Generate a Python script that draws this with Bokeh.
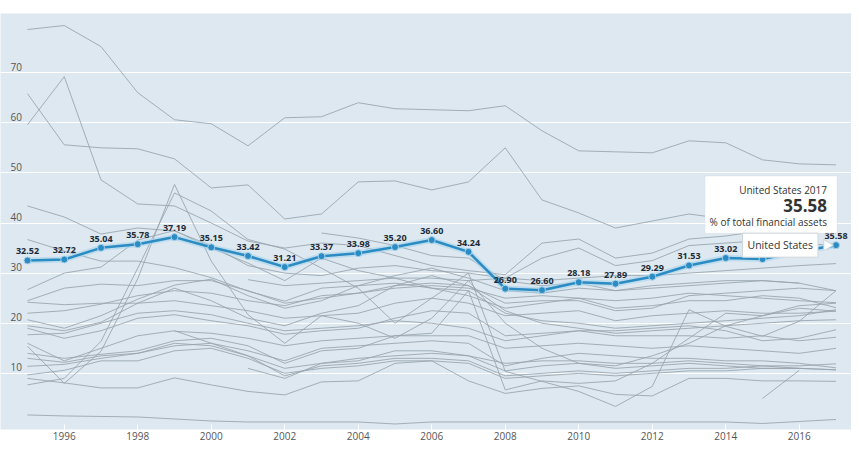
import math
from bokeh.plotting import figure
from bokeh.models import Label, BoxAnnotation, ColumnDataSource, FixedTicker, Range1d
from bokeh.core.properties import value
from bokeh.embed import file_html
from bokeh.resources import INLINE

nan = float("nan")

years = list(range(1995, 2018))
x_ticks = [1996, 1998, 2000, 2002, 2004, 2006, 2008, 2010, 2012, 2014, 2016]
y_ticks = [10, 20, 30, 40, 50, 60, 70]

us_name = "United States"
us_unit = "% of total financial assets"
us = [32.52, 32.72, 35.04, 35.78, 37.19, 35.15, 33.42, 31.21, 33.37, 33.98, 35.20, 36.60,
      34.24, 26.90, 26.60, 28.18, 27.89, 29.29, 31.53, 33.02, 32.80, 34.30, 35.58]

g01 = [78.6, 79.4, 75.2, 66.0, 60.6, 59.8, 55.4, 61.0, 61.2, 64.0, 62.8, 62.6, 62.4, 63.4, 58.4, 54.4, 54.2, 54.0, 56.4, 56.0, 52.6, 51.8, 51.6]
g02 = [65.8, 55.6, 55.0, 54.8, 52.8, 47.0, 47.6, 40.8, 41.8, 48.2, 48.4, 46.6, 48.2, 55.0, 44.6, 42.0, 39.0, 40.4, 41.8, 40.8, 40.0, 39.2, 38.6]
g03 = [59.6, 69.2, 48.6, 43.8, 43.4, 40.0, 36.4, 35.0, 36.0, 35.5, 33.5, 31.5, 30.5, 29.7, 36.0, 36.8, 33.0, 34.0, 36.8, 37.4, 38.5, 38.5, 38.0]
g04 = [43.4, 41.2, 37.8, 39.0, 38.4, 35.5, 31.5, 30.0, 29.5, 31.0, 31.5, 30.5, 30.0, 29.0, 33.0, 35.0, 31.5, 32.5, 35.5, 36.0, 36.5, 36.0, 35.5]
g05 = [36.7, 34.4, 32.4, 32.4, 31.1, 29.1, 26.4, 24.4, 27.0, 27.5, 28.0, 27.0, 26.5, 22.0, 20.5, 20.0, 19.0, 19.5, 20.0, 20.5, 21.0, 21.5, 22.7]
g06 = [26.7, 30.0, 31.2, 36.6, 38.5, 35.0, 32.0, 28.5, 33.0, 30.5, 29.0, 27.0, 25.5, 23.0, 24.0, 25.0, 24.5, 25.0, 26.0, 25.5, 25.0, 24.5, 24.1]
g07 = [24.5, 27.0, 27.8, 27.5, 28.5, 28.5, 26.5, 24.0, 25.0, 26.0, 27.0, 27.5, 27.0, 25.0, 25.5, 25.0, 23.0, 23.5, 24.5, 24.5, 25.5, 25.0, 23.1]
g08 = [24.2, 23.7, 24.0, 24.0, 24.5, 23.5, 22.5, 21.0, 21.5, 22.0, 24.0, 25.0, 24.0, 21.5, 22.0, 22.5, 20.5, 21.5, 22.0, 22.5, 22.0, 22.0, 22.4]
g09 = [22.0, 22.5, 23.8, 25.5, 26.5, 26.0, 24.5, 23.5, 25.5, 26.0, 27.5, 28.0, 27.5, 24.0, 24.5, 24.5, 22.5, 23.0, 25.5, 26.0, 26.5, 27.0, 26.5]
g10 = [20.7, 19.0, 21.5, 24.8, 27.6, 28.8, 25.5, 23.0, 24.5, 27.5, 29.5, 31.0, 29.0, 26.5, 26.0, 27.0, 26.5, 27.5, 28.0, 28.5, 28.5, 28.0, 26.5]
g11 = [19.5, 18.5, 20.2, 24.0, 27.0, 24.5, 21.0, 19.5, 22.0, 23.5, 27.5, 29.5, 27.5, 22.5, 20.0, 19.0, 18.0, 18.5, 19.0, 19.5, 20.0, 20.5, 20.7]
g12 = [19.0, 17.0, 18.5, 21.0, 21.7, 20.5, 19.5, 17.8, 18.5, 19.0, 21.0, 22.5, 22.0, 17.5, 18.0, 18.5, 18.5, 19.0, 19.5, 18.5, 16.5, 17.0, 18.7]
g13 = [17.7, 18.0, 20.0, 22.0, 22.5, 21.7, 20.0, 18.5, 19.0, 19.5, 20.5, 20.0, 19.0, 16.5, 17.5, 18.5, 17.5, 17.5, 17.5, 17.0, 17.5, 16.5, 17.2]
g14 = [16.0, 12.5, 15.0, 17.5, 18.5, 16.0, 13.5, 9.5, 11.5, 12.0, 13.0, 13.0, 12.5, 9.5, 10.0, 10.5, 10.0, 10.5, 11.0, 11.0, 11.5, 11.5, 11.9]
g15 = [15.4, 8.0, 14.4, 28.9, 47.7, 32.4, 21.7, 16.0, 21.5, 20.0, 17.0, 21.0, 28.5, 20.0, 15.0, 12.0, 11.5, 13.5, 16.0, 19.5, 21.5, 23.5, 24.0]
g16 = [7.7, 9.0, 16.4, 31.0, 46.0, 42.4, 36.7, 34.8, 31.0, 27.0, 20.0, 25.0, 30.0, 10.4, 8.4, 6.4, 3.4, 7.4, 22.7, 19.4, 17.4, 20.4, 26.5]
g17 = [14.0, 13.0, 13.8, 14.5, 16.5, 17.0, 15.5, 12.0, 14.5, 15.0, 17.5, 18.0, 26.5, 6.7, 8.5, 8.0, 8.5, 12.0, 17.0, 22.0, 21.5, 23.0, 22.4]
g18 = [13.0, 12.2, 13.5, 14.0, 15.5, 16.0, 14.5, 12.5, 15.0, 15.5, 16.0, 16.5, 16.0, 11.5, 13.0, 14.0, 13.5, 13.0, 13.0, 12.5, 12.5, 12.0, 11.1]
g19 = [11.4, 11.8, 13.0, 14.0, 16.0, 15.5, 13.5, 11.0, 12.0, 13.0, 13.5, 14.0, 13.5, 10.5, 11.5, 12.0, 11.0, 11.5, 12.0, 11.5, 11.0, 11.0, 10.7]
g20 = [9.7, 10.6, 12.5, 12.5, 14.5, 15.0, 13.0, 10.0, 11.0, 11.5, 12.5, 12.5, 12.0, 9.0, 9.5, 10.0, 9.5, 10.0, 10.5, 10.5, 11.0, 11.0, 10.7]
g21 = [9.0, 8.1, 7.1, 7.1, 9.1, 7.7, 6.4, 5.7, 8.3, 8.5, 12.0, 12.5, 8.5, 6.0, 7.0, 7.5, 5.8, 5.5, 9.0, 9.0, 8.5, 8.5, 8.4]
g22 = [1.7, 1.5, 1.4, 1.3, 0.9, 0.5, 0.3, 0.3, 0.3, 0.3, -0.1, 0.3, 0.3, 0.3, 0.3, 0.3, 0.3, 0.3, 0.3, 0.3, 0.0, 0.4, 0.8]
g23 = [nan, nan, nan, nan, 18.4, 18.0, 17.0, 15.5, 16.5, 17.0, 17.5, 17.5, 17.5, 15.0, 15.5, 16.0, 15.5, 15.0, 15.5, 15.0, 14.5, 14.0, 15.0]
g24 = [nan, nan, nan, nan, nan, nan, 28.7, 27.5, 28.0, 28.5, 29.0, 29.0, 28.5, 29.0, 28.5, 29.0, 29.5, 29.5, 30.0, 30.5, 31.0, 31.5, 31.9]
g25 = [nan, nan, nan, nan, nan, nan, 11.0, 9.0, 12.0, 12.5, 14.5, 14.5, 13.5, 12.0, 12.5, 12.5, 12.0, 12.0, 12.5, 12.0, 11.5, 11.0, nan]
g26 = [nan, nan, nan, nan, nan, nan, nan, nan, 38.0, 37.0, 35.5, 33.5, 33.0, 28.5, 27.5, 28.0, 26.5, 27.0, 27.5, 28.0, 28.5, 28.0, nan]
g27 = [nan, nan, nan, nan, nan, nan, nan, nan, nan, nan, nan, nan, nan, nan, nan, nan, nan, nan, nan, nan, 5.0, 10.6, nan]

grey_series = [g01, g02, g03, g04, g05, g06, g07, g08, g09, g10, g11, g12, g13, g14,
               g15, g16, g17, g18, g19, g20, g21, g22, g23, g24, g25, g26, g27]

BG = "#dde8f0"
BLUE = "#2b8bc3"
GREY = "#98a3ad"

W, H = 851, 442
PX_PER_YEAR = 36.75
x0 = 1994.265

p = figure(width=W, height=H, output_backend="svg", toolbar_location=None,
           x_range=Range1d(x0, x0 + W / PX_PER_YEAR),
           y_range=Range1d(-1.2, 81.8),
           min_border_left=0, min_border_right=0, min_border_top=13, min_border_bottom=12)
p.background_fill_color = BG
p.border_fill_color = "white"
p.outline_line_color = None

p.xgrid.grid_line_color = None
p.ygrid.grid_line_color = "white"
p.ygrid.grid_line_width = 1
p.yaxis.visible = False
p.yaxis.ticker = FixedTicker(ticks=y_ticks)

p.xaxis.ticker = FixedTicker(ticks=x_ticks)
p.xaxis.axis_line_color = None
p.xaxis.major_tick_line_color = "white"
p.xaxis.major_tick_in = 5
p.xaxis.major_tick_out = 0
p.xaxis.minor_tick_line_color = None
p.xaxis.major_label_text_font = "Open Sans"
p.xaxis.major_label_text_font_size = "10px"
p.xaxis.major_label_text_color = "#555555"
p.xaxis.major_label_standoff = 2

for t in y_ticks:
    p.add_layout(Label(x=10, y=t, x_units="screen", y_units="data", text=str(t),
                       text_font="Open Sans", text_font_size="10px", text_color="#555555",
                       text_baseline="bottom", y_offset=2))

for s in grey_series:
    p.line(years, s, line_color=GREY, line_width=1, line_alpha=0.85)

src = ColumnDataSource(dict(x=years, y=us, lab=["%.2f" % v for v in us]))
p.line("x", "y", source=src, line_color="#a9d3ec", line_width=6, line_alpha=0.6)
p.line("x", "y", source=src, line_color=BLUE, line_width=2.5)
p.scatter("x", "y", source=src, size=7, fill_color=BLUE, line_color="#a9d3ec", line_width=1)
p.text("x", "y", text="lab", source=src, text_font=value("Open Sans"),
       text_font_style="bold", text_font_size="9px", text_color="#1d2b36",
       text_align="center", text_baseline="bottom", y_offset=-6)

# tooltip
last_x, last_y = years[-1], us[-1]
px = PX_PER_YEAR
py = 5.0

# pointer of the series-name label
p.scatter([last_x - 9 / px], [last_y], marker="triangle", size=11, angle=-math.pi / 2,
          fill_color="white", line_color="#cfd6dc", line_width=1)

box = BoxAnnotation(left=last_x - 131 / px, right=last_x + 1 / px,
                    bottom=last_y + 12 / py, top=last_y + 69 / py,
                    fill_color="white", fill_alpha=1.0, line_color="#cfd6dc", line_width=1)
p.add_layout(box)
p.add_layout(Label(x=last_x - 9 / px, y=last_y + 55 / py, text="%s %d" % (us_name, last_x),
                   text_font="Open Sans", text_font_size="10px", text_color="#333333",
                   text_align="right", text_baseline="middle"))
p.add_layout(Label(x=last_x - 9 / px, y=last_y + 40 / py, text="%.2f" % last_y,
                   text_font="Open Sans", text_font_size="17px", text_font_style="bold",
                   text_color="#333333", text_align="right", text_baseline="middle"))
p.add_layout(Label(x=last_x - 9 / px, y=last_y + 23 / py, text=us_unit,
                   text_font="Open Sans", text_font_size="10px", text_color="#333333",
                   text_align="right", text_baseline="middle"))
p.add_layout(Label(x=last_x - 18 / px, y=last_y, text=us_name,
                   text_font="Open Sans", text_font_size="10.5px", text_color="#333333",
                   text_align="right", text_baseline="middle",
                   background_fill_color="white", background_fill_alpha=1.0,
                   border_line_color="#cfd6dc", border_line_width=1, padding=5))

open("out.html", "w").write(file_html(p, INLINE))
